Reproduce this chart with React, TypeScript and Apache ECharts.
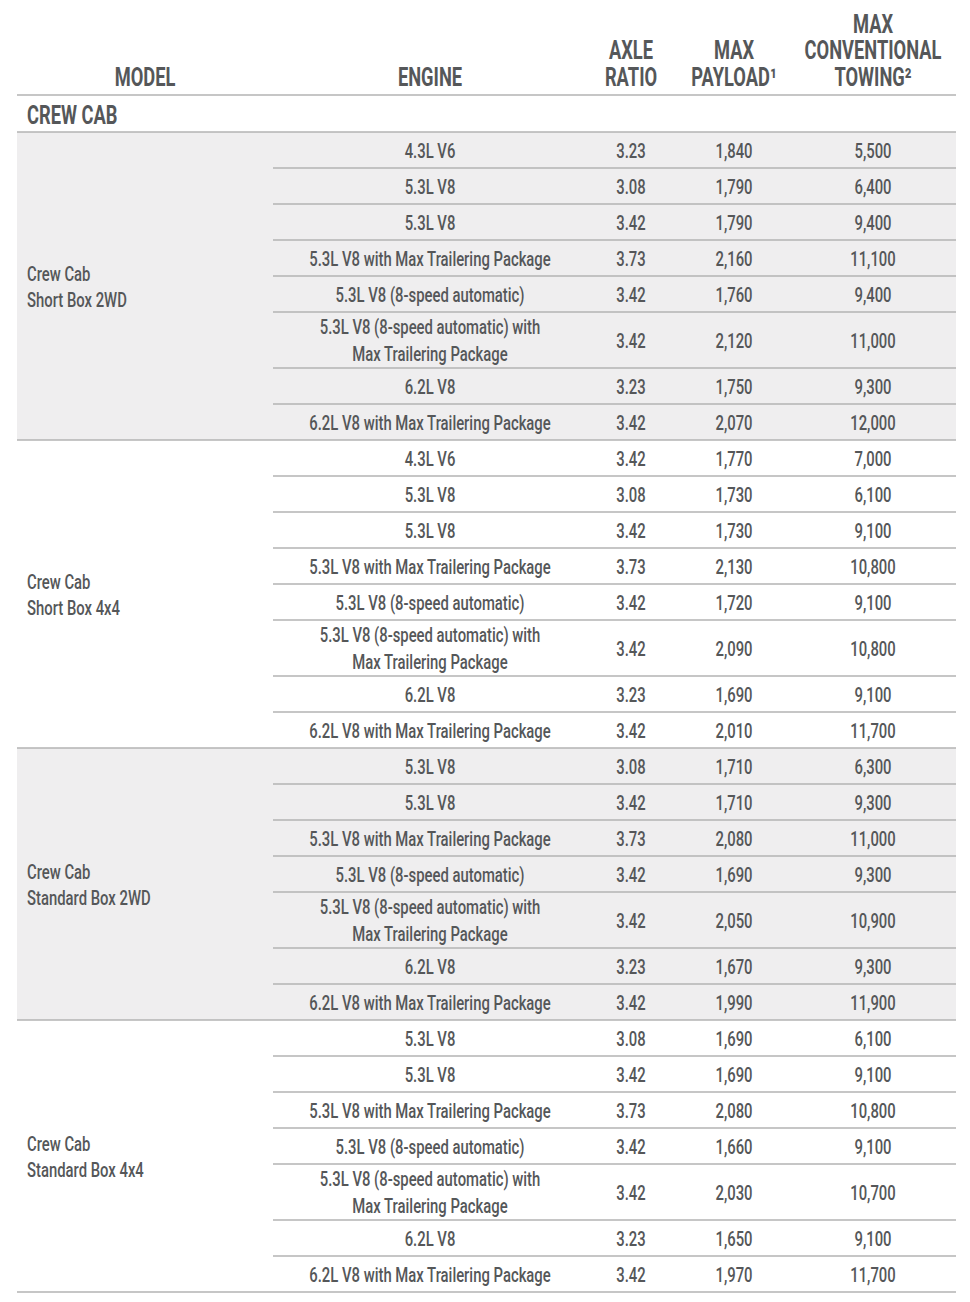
import React, { useEffect, useRef } from "react";
import * as echarts from "echarts";

const headers = ["MODEL", "ENGINE", "AXLE\nRATIO", "MAX\nPAYLOAD¹", "MAX\nCONVENTIONAL\nTOWING²"];
const sectionTitle = "CREW CAB";
const models = ["Crew Cab\nShort Box 2WD", "Crew Cab\nShort Box 4x4", "Crew Cab\nStandard Box 2WD", "Crew Cab\nStandard Box 4x4"];

const enginesShort = [
  "4.3L V6",
  "5.3L V8",
  "5.3L V8",
  "5.3L V8 with Max Trailering Package",
  "5.3L V8 (8-speed automatic)",
  "5.3L V8 (8-speed automatic) with\nMax Trailering Package",
  "6.2L V8",
  "6.2L V8 with Max Trailering Package",
];
const enginesStandard = [
  "5.3L V8",
  "5.3L V8",
  "5.3L V8 with Max Trailering Package",
  "5.3L V8 (8-speed automatic)",
  "5.3L V8 (8-speed automatic) with\nMax Trailering Package",
  "6.2L V8",
  "6.2L V8 with Max Trailering Package",
];
const engines = [enginesShort, enginesShort, enginesStandard, enginesStandard];

const axleRatio = [
  [3.23, 3.08, 3.42, 3.73, 3.42, 3.42, 3.23, 3.42],
  [3.42, 3.08, 3.42, 3.73, 3.42, 3.42, 3.23, 3.42],
  [3.08, 3.42, 3.73, 3.42, 3.42, 3.23, 3.42],
  [3.08, 3.42, 3.73, 3.42, 3.42, 3.23, 3.42],
];
const maxPayload = [
  [1840, 1790, 1790, 2160, 1760, 2120, 1750, 2070],
  [1770, 1730, 1730, 2130, 1720, 2090, 1690, 2010],
  [1710, 1710, 2080, 1690, 2050, 1670, 1990],
  [1690, 1690, 2080, 1660, 2030, 1650, 1970],
];
const maxTowing = [
  [5500, 6400, 9400, 11100, 9400, 11000, 9300, 12000],
  [7000, 6100, 9100, 10800, 9100, 10800, 9100, 11700],
  [6300, 9300, 11000, 9300, 10900, 9300, 11900],
  [6100, 9100, 10800, 9100, 10700, 9100, 11700],
];

const FONT = "Roboto, 'Liberation Sans', sans-serif";
const BODY_FONT = `500 21px ${FONT}`;
const HEAD_FONT = `bold 25px ${FONT}`;
const TEXT = "#555759";
const LINE = "#b3b3b3";
const SHADE = "#efeeef";

function measure(text: string, font: string) {
  const c = document.createElement("canvas");
  const ctx = c.getContext("2d")!;
  ctx.font = font;
  return ctx.measureText(text).width;
}

function buildGraphic() {
  const bodyScale = 242 / measure("5.3L V8 with Max Trailering Package", BODY_FONT);
  const headScale = 137 / measure("CONVENTIONAL", HEAD_FONT);
  const txt = (x: number, y: number, text: string, font: string, sx: number, align: string) => ({
    type: "text",
    x,
    y,
    scaleX: sx,
    style: { text, fill: TEXT, font, align, verticalAlign: "middle" },
  });

  const els: any[] = [];
  const L = 17, R = 956;
  const colX = [145, 430, 631, 734, 873];
  const engineLeft = 273;
  const lh = 26.5;

  headers.forEach((h, ci) => {
    const lines = h.split("\n");
    lines.forEach((ln, i) => {
      els.push(txt(colX[ci], 77 - (lines.length - 1 - i) * lh, ln, HEAD_FONT, headScale, "center"));
    });
  });
  els.push({ type: "line", shape: { x1: L, y1: 95, x2: R, y2: 95 }, style: { stroke: LINE, lineWidth: 1.5 } });
  els.push(txt(27, 115, sectionTitle, HEAD_FONT, headScale, "left"));
  els.push({ type: "line", shape: { x1: L, y1: 132, x2: R, y2: 132 }, style: { stroke: LINE, lineWidth: 1.5 } });

  let y = 132;
  const fills: any[] = [];
  const lines: any[] = [];
  const texts: any[] = [];
  models.forEach((m, g) => {
    const gStart = y;
    const rows = engines[g];
    rows.forEach((eng, r) => {
      const parts = eng.split("\n");
      const nl = parts.length;
      const hgt = nl > 1 ? 56 : 36;
      const cy = y + hgt / 2;
      parts.forEach((ln, i) => {
        texts.push(txt(colX[1], cy + (i - (nl - 1) / 2) * lh, ln, BODY_FONT, bodyScale, "center"));
      });
      const vals = [
        axleRatio[g][r].toFixed(2),
        maxPayload[g][r].toLocaleString("en-US"),
        maxTowing[g][r].toLocaleString("en-US"),
      ];
      vals.forEach((v, k) => {
        texts.push(txt(colX[2 + k], cy, v, BODY_FONT, bodyScale, "center"));
      });
      y += hgt;
      if (r < rows.length - 1) {
        lines.push({ type: "line", shape: { x1: engineLeft, y1: y, x2: R, y2: y }, style: { stroke: LINE, lineWidth: 1.5 } });
      }
    });
    if (g % 2 === 0) {
      fills.push({ type: "rect", shape: { x: L, y: gStart, width: R - L, height: y - gStart }, style: { fill: SHADE } });
    }
    lines.push({ type: "line", shape: { x1: L, y1: y, x2: R, y2: y }, style: { stroke: LINE, lineWidth: 1.5 } });
    const ml = m.split("\n");
    const gc = (gStart + y) / 2;
    ml.forEach((ln, i) => {
      texts.push(txt(27, gc + (i - (ml.length - 1) / 2) * 26, ln, BODY_FONT, bodyScale, "left"));
    });
  });
  return [...fills, ...els, ...lines, ...texts];
}

export default function App() {
  const ref = useRef<HTMLDivElement>(null);
  useEffect(() => {
    document.body.style.margin = "0";
    const chart = echarts.init(ref.current!, null, { renderer: "svg" });
    chart.setOption({
      animation: false,
      backgroundColor: "#ffffff",
      graphic: { elements: buildGraphic() },
    });
    return () => chart.dispose();
  }, []);
  return <div ref={ref} style={{ width: 970, height: 1302 }} />;
}
